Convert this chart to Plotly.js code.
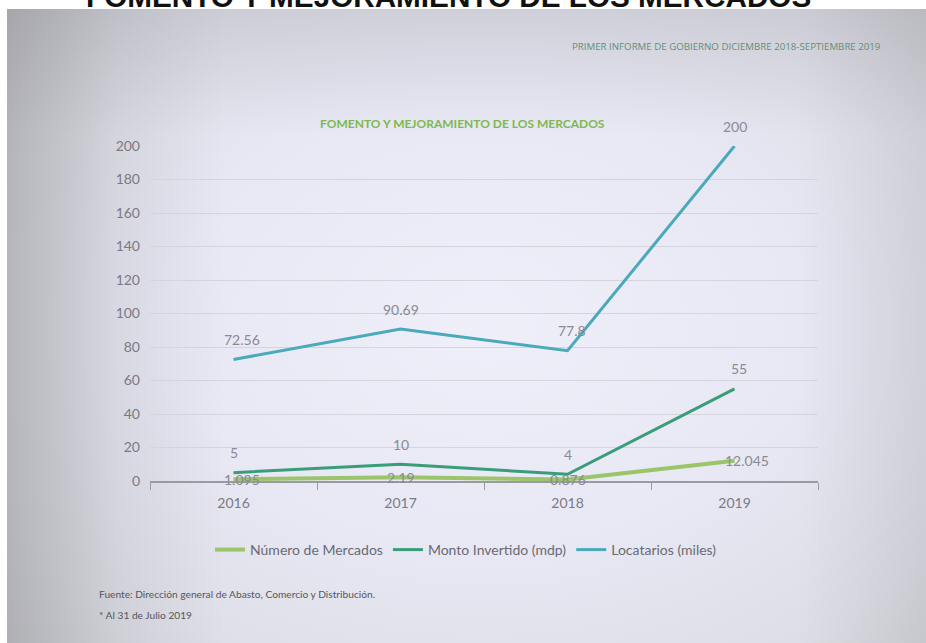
<!DOCTYPE html>
<html>
<head>
<meta charset="utf-8">
<script src="https://cdn.plot.ly/plotly-3.0.1.min.js"></script>
<style>
  html, body { margin: 0; padding: 0; background: #ffffff; }
  #wrap { position: relative; width: 926px; height: 643px; overflow: hidden; background: #ffffff; }
  #photo {
    position: absolute; left: 7px; top: 9px; right: 0; bottom: 0;
    background:
      linear-gradient(to right, rgba(120,120,122,0.40) 0%, rgba(120,120,122,0.12) 12%, rgba(120,120,122,0) 24%),
      linear-gradient(to left, rgba(130,130,135,0.18) 0%, rgba(130,130,135,0) 14%),
      linear-gradient(to bottom, rgba(140,140,150,0.22) 0%, rgba(140,140,150,0) 20%),
      radial-gradient(ellipse 75% 80% at 52% 50%, #eeeff9 0%, #e7e8f3 45%, #dcdde5 78%, #d0d1d7 100%);
  }
  #chart { position: absolute; left: 0; top: 0; width: 926px; height: 643px; }
</style>
</head>
<body>
<div id="wrap">
  <div id="photo"></div>
  <div id="chart"></div>
</div>
<script>
const years = ['2016', '2017', '2018', '2019'];
const mercados = [1.095, 2.19, 0.876, 12.045];
const monto = [5, 10, 4, 55];
const locatarios = [72.56, 90.69, 77.8, 200];
const mercadosLabels = ['1.095', '2.19', '0.876', '12.045'];
const montoLabels = ['5', '10', '4', '55'];
const locatariosLabels = ['72.56', '90.69', '77.8', '200'];
const yTicks = [0, 20, 40, 60, 80, 100, 120, 140, 160, 180, 200];

const narrow = 'Lato, "Open Sans", sans-serif';
const labelColor = '#8a8a93';

const traces = [
  { x: years, y: mercados, name: 'Número de Mercados', mode: 'lines',
    line: { color: '#9cc46a', width: 4 }, cliponaxis: false },
  { x: years, y: monto, name: 'Monto Invertido (mdp)', mode: 'lines',
    line: { color: '#3a9d7a', width: 3 }, cliponaxis: false },
  { x: years, y: locatarios, name: 'Locatarios (miles)', mode: 'lines',
    line: { color: '#4aa9ba', width: 3 }, cliponaxis: false }
];

const annotations = [];
function addLabels(vals, labels, yshift, xshifts) {
  vals.forEach((v, i) => {
    annotations.push({
      x: i, y: v, xref: 'x', yref: 'y', text: labels[i], showarrow: false,
      yshift: yshift, xshift: xshifts ? xshifts[i] : 0,
      font: { family: narrow, size: 14, color: labelColor }
    });
  });
}
addLabels(locatarios, locatariosLabels, 20, [8, 0, 4, 0]);
addLabels(monto, montoLabels, 20, [0, 0, 0, 4]);
addLabels(mercados, mercadosLabels, 0, [8, 0, 0, 12]);

// Chart title (green)
annotations.push({
  xref: 'paper', yref: 'paper', x: (462 - 150) / 668, y: (481 - 114) / 335, showarrow: false,
  text: '<b>FOMENTO Y MEJORAMIENTO DE LOS MERCADOS</b>',
  font: { family: narrow, size: 12, color: '#7fb84e' }
});
// Header text
annotations.push({
  xref: 'paper', yref: 'paper', x: (883 - 150) / 668, xanchor: 'right', y: (481 - 38) / 335, showarrow: false,
  text: 'PRIMER INFORME DE GOBIERNO DICIEMBRE 2018-SEPTIEMBRE 2019',
  font: { family: '"Open Sans", "DejaVu Sans", sans-serif', size: 9.7, color: '#628f77' }
});
// Cut-off black slide title
annotations.push({
  xref: 'paper', yref: 'paper', x: (448 - 150) / 668, y: (481 + 22) / 335, showarrow: false,
  text: '<b>FOMENTO Y MEJORAMIENTO DE LOS MERCADOS</b>',
  font: { family: '"Liberation Sans", Arial, sans-serif', size: 29.7, color: '#111111' }
});
// Footnotes
annotations.push({
  xref: 'paper', yref: 'paper', x: (97 - 150) / 668, xanchor: 'left', y: (481 - 602) / 335, showarrow: false,
  text: 'Fuente: Dirección general de Abasto, Comercio y Distribución.',
  font: { family: narrow, size: 10.2, color: '#55555c' }
});
annotations.push({
  xref: 'paper', yref: 'paper', x: (97 - 150) / 668, xanchor: 'left', y: (481 - 623) / 335, showarrow: false,
  text: '* Al 31 de Julio 2019',
  font: { family: narrow, size: 10.2, color: '#55555c' }
});

const layout = {
  width: 926, height: 643,
  margin: { l: 150, r: 108, t: 146, b: 162 },
  paper_bgcolor: 'rgba(0,0,0,0)',
  plot_bgcolor: 'rgba(0,0,0,0)',
  showlegend: true,
  legend: {
    orientation: 'h', x: (466 - 150) / 668, xanchor: 'center', y: (481 - 550) / 335, yanchor: 'middle',
    font: { family: narrow, size: 14, color: '#6a6a74' },
    itemwidth: 30, bgcolor: 'rgba(0,0,0,0)'
  },
  xaxis: {
    type: 'category', range: [-0.5, 3.5],
    showline: true, linecolor: '#9a9aa2', linewidth: 1.5,
    ticks: 'outside', tickson: 'boundaries', ticklen: 7, tickcolor: '#9a9aa2',
    showgrid: false, zeroline: false,
    tickfont: { family: narrow, size: 14, color: '#7a7a84' },
    ticklabelstandoff: 9,
    fixedrange: true
  },
  yaxis: {
    range: [0, 200], tickvals: yTicks, ticktext: yTicks.map(String),
    showgrid: true, gridcolor: '#d3d4dc', gridwidth: 1,
    zeroline: false, showline: false, ticks: '',
    tickfont: { family: narrow, size: 14, color: '#7a7a84' },
    ticklabelstandoff: 9,
    fixedrange: true
  },
  annotations: annotations
};

Plotly.newPlot('chart', traces, layout, { displayModeBar: false, staticPlot: true });
</script>
</body>
</html>
